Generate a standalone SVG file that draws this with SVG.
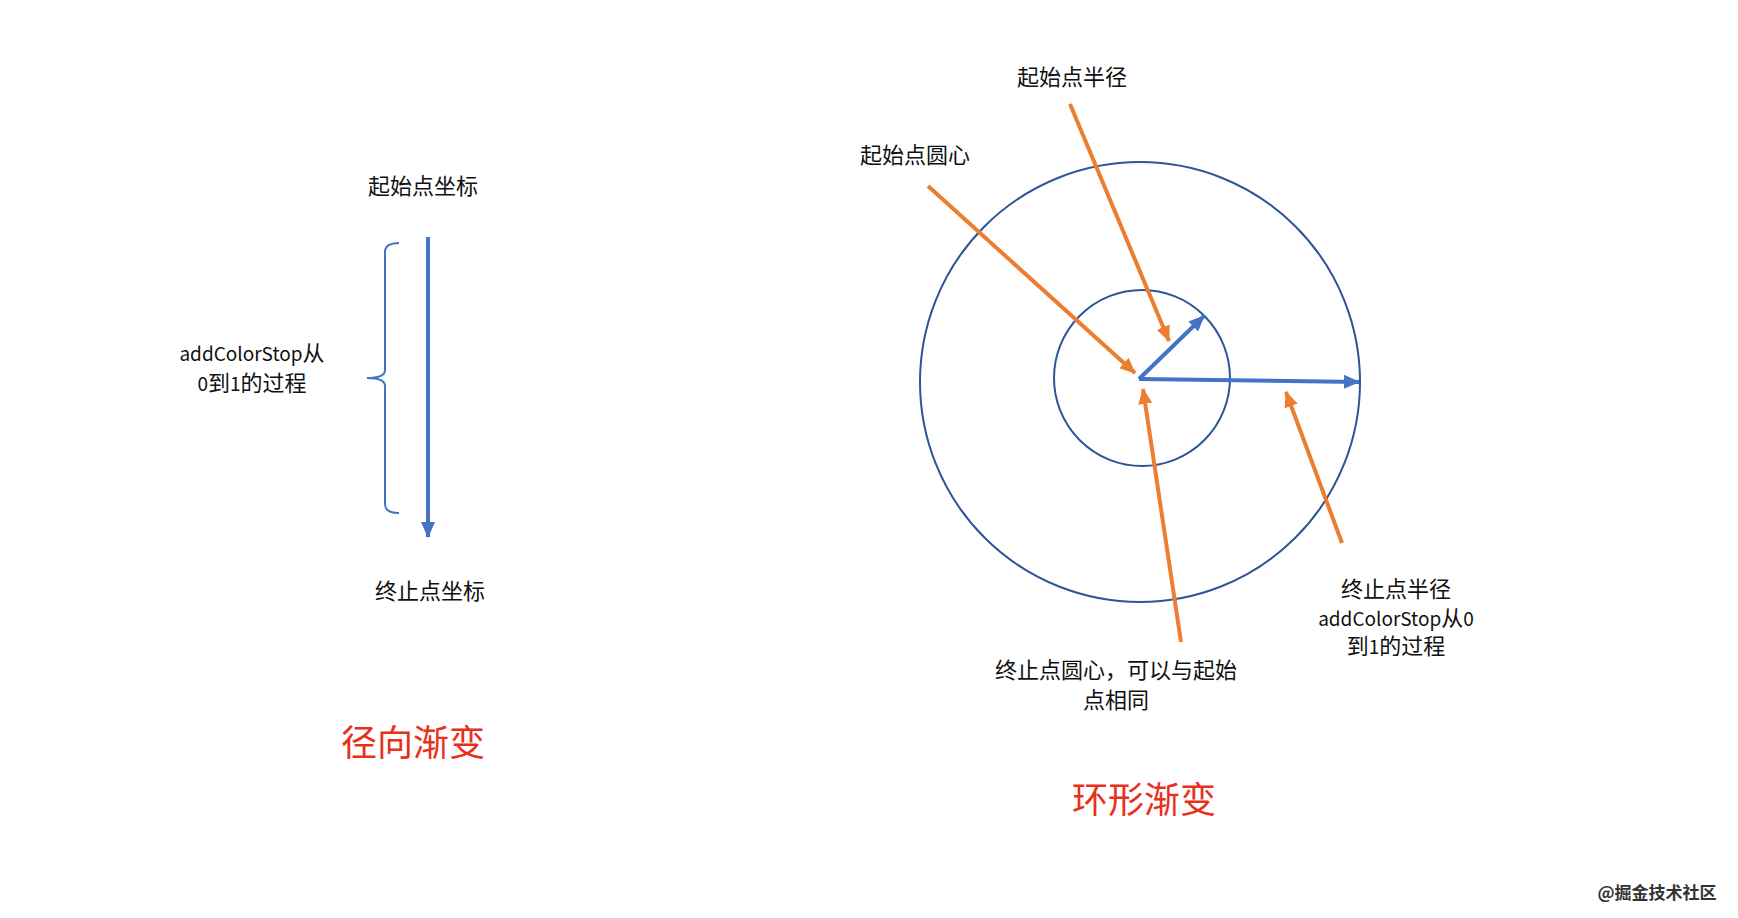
<svg xmlns="http://www.w3.org/2000/svg" width="1738" height="918" viewBox="0 0 1738 918">
<defs>
<style>
.t{font-family:"Noto Sans CJK SC","Noto Sans",sans-serif;font-size:22px;fill:#111;text-anchor:middle}
.l{font-size:19px}
.r{font-family:"Noto Sans CJK SC",sans-serif;fill:#e8301c;text-anchor:middle;font-size:36px}
.o{stroke:#ED7D31;stroke-width:4;fill:none;marker-end:url(#ao)}
.b{stroke:#4472C4;stroke-width:4;fill:none;marker-end:url(#ab)}
.c{stroke:#2F5597;stroke-width:2;fill:none}
</style>
<marker id="ao" markerUnits="userSpaceOnUse" markerWidth="16" markerHeight="14" refX="15" refY="7" orient="auto"><path d="M0,0 L16,7 L0,14 Z" fill="#ED7D31"/></marker>
<marker id="ab" markerUnits="userSpaceOnUse" markerWidth="16" markerHeight="14" refX="15" refY="7" orient="auto"><path d="M0,0 L16,7 L0,14 Z" fill="#4472C4"/></marker>
</defs>
<rect width="1738" height="918" fill="#fff"/>
<g id="circles">
<circle class="c" cx="1140" cy="382" r="220"/>
<circle class="c" cx="1142" cy="378" r="88"/>
</g>
<g id="connectors">
<path class="b" d="M428,237 L428,537"/>
<path d="M399,243 Q385,243 385,252 L385,370 Q385,378 367,378 Q385,378 385,386 L385,504 Q385,513 399,513" stroke="#4472C4" stroke-width="2" fill="none"/>
<path class="b" d="M1139,379 L1359,382"/>
<path class="b" d="M1139,379 L1204,316"/>
<path class="o" d="M1070,104 L1169,341"/>
<path class="o" d="M928,186 L1135,373"/>
<path class="o" d="M1181,642 L1143,389"/>
<path class="o" d="M1342,543 L1286,392"/>
</g>
<g id="label-start"><text class="t" x="423" y="194">起始点坐标</text></g>
<g id="label-range"><text class="t" x="252" y="361"><tspan class="l">addColorStop</tspan>从</text><text class="t" x="252" y="391"><tspan class="l">0</tspan>到<tspan class="l">1</tspan>的过程</text></g>
<g id="label-end"><text class="t" x="430" y="599">终止点坐标</text></g>
<g id="title-left"><text class="r" x="413" y="756">径向渐变</text></g>
<g id="label-start-center"><text class="t" x="915" y="163">起始点圆心</text></g>
<g id="label-start-radius"><text class="t" x="1072" y="85">起始点半径</text></g>
<g id="label-end-center"><text class="t" x="1116" y="678">终止点圆心，可以与起始</text><text class="t" x="1116" y="708">点相同</text></g>
<g id="label-end-radius"><text class="t" x="1396" y="597">终止点半径</text><text class="t" x="1396" y="626"><tspan class="l">addColorStop</tspan>从<tspan class="l">0</tspan></text><text class="t" x="1396" y="654">到<tspan class="l">1</tspan>的过程</text></g>
<g id="title-right"><text class="r" x="1144" y="813">环形渐变</text></g>
<g id="watermark"><text x="1657" y="899" font-family="Noto Sans CJK SC,sans-serif" font-size="17" font-weight="bold" fill="#333" text-anchor="middle">@掘金技术社区</text></g>
</svg>
